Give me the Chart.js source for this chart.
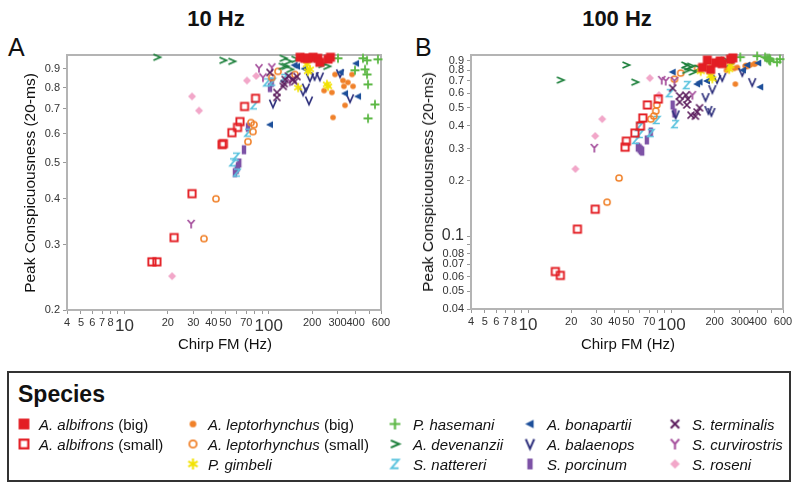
<!DOCTYPE html>
<html>
<head>
<meta charset="utf-8">
<script src="https://cdn.jsdelivr.net/npm/chart.js@4.4.1/dist/chart.umd.min.js"></script>
<style>
  body { margin: 0; background: #fff; font-family: "Liberation Sans", Arial, sans-serif; color: #111; }
  #wrap { position: relative; width: 800px; height: 487px; overflow: hidden; }
  .abs { position: absolute; white-space: nowrap; }
  .title { font-weight: bold; font-size: 22px; transform: translateX(-50%); }
  .panel { font-size: 25px; }
  .axt { font-size: 15px; transform: translate(-50%, -50%); }
  .axy { font-size: 15.5px; transform: translate(-50%, -50%) rotate(-90deg); }
  canvas.chart { position: absolute; top: 0; }
  #legend { position: absolute; left: 7px; top: 371px; width: 784px; height: 111px; border: 2px solid #333; box-sizing: border-box; }
  .item { position: absolute; font-size: 15px; transform: translateY(-50%); }
  .mk { position: absolute; transform: translate(-50%, -50%); }
</style>
</head>
<body>
<div id="wrap">
  <div class="abs title" style="left:216px; top:6px;">10 Hz</div>
  <div class="abs title" style="left:617px; top:6px;">100 Hz</div>
  <div class="abs panel" style="left:8px; top:33px;">A</div>
  <div class="abs panel" style="left:415px; top:33px;">B</div>
  <canvas id="chartA" class="chart" width="400" height="365" style="left:0;"></canvas>
  <canvas id="chartB" class="chart" width="400" height="365" style="left:400px;"></canvas>
  <div class="abs axy" style="left:30px; top:183px;">Peak Conspicuousness (20-ms)</div>
  <div class="abs axy" style="left:428px; top:182px;">Peak Conspicuousness (20-ms)</div>
  <div class="abs axt" style="left:225px; top:343px;">Chirp FM (Hz)</div>
  <div class="abs axt" style="left:628px; top:343px;">Chirp FM (Hz)</div>
  <div id="legend"></div>
</div>
<script>
const FONT = '"Liberation Sans", Arial, sans-serif';

// axis ticks
const xTicks = [4, 5, 6, 7, 8, 9, 10, 20, 30, 40, 50, 60, 70, 80, 90, 100, 200, 300, 400, 500, 600];
const xLabels = [4, 5, 6, 7, 8, 10, 20, 30, 40, 50, 70, 100, 200, 300, 400, 600];
const yTicksA = [0.2, 0.3, 0.4, 0.5, 0.6, 0.7, 0.8, 0.9];
const yLabelsA = [0.2, 0.3, 0.4, 0.5, 0.6, 0.7, 0.8, 0.9];
const yTicksB = [0.04, 0.05, 0.06, 0.07, 0.08, 0.09, 0.1, 0.2, 0.3, 0.4, 0.5, 0.6, 0.7, 0.8, 0.9];
const yLabelsB = [0.04, 0.05, 0.06, 0.07, 0.08, 0.1, 0.2, 0.3, 0.4, 0.5, 0.6, 0.7, 0.8, 0.9];

// chirp FM (Hz) and peak conspicuousness at 10 Hz / 100 Hz, per species
const albBigFM = [165, 178, 188, 203, 219, 226, 258, 268];
const albBig10 = [0.966, 0.96, 0.96, 0.966, 0.96, 0.936, 0.955, 0.966];
const albBig100 = [0.83, 0.91, 0.81, 0.88, 0.90, 0.87, 0.92, 0.935];

const albSmallFM = [15.5, 16.8, 22.1, 29.4, 47.5, 48.5, 55.6, 60.8, 63.2, 68, 81];
const albSmall10 = [0.270, 0.270, 0.314, 0.413, 0.561, 0.564, 0.604, 0.624, 0.647, 0.711, 0.748];
const albSmall100 = [0.064, 0.061, 0.109, 0.140, 0.305, 0.329, 0.364, 0.398, 0.440, 0.518, 0.558];

const lepBigFM = [242, 274, 279, 288, 327, 332, 338, 354, 378, 384];
const lepBig10 = [0.785, 0.776, 0.664, 0.868, 0.836, 0.806, 0.716, 0.826, 0.868, 0.806];
const lepBig100 = [0.80, 0.82, 0.673, 0.83, 0.845, 0.85, 0.84, 0.855, 0.865, 0.87];

const lepSmallFM = [35.6, 43.1, 71.8, 75.3, 77.8, 79, 105, 116, 152];
const lepSmall10 = [0.312, 0.40, 0.571, 0.643, 0.608, 0.635, 0.852, 0.885, 0.868];
const lepSmall100 = [0.153, 0.207, 0.434, 0.451, 0.480, 0.518, 0.716, 0.773, 0.82];

const gimFM = [160, 184, 187, 193, 253, 258];
const gim10 = [0.80, 0.924, 0.885, 0.896, 0.816, 0.806];
const gim100 = [0.79, 0.82, 0.75, 0.72, 0.81, 0.85];

const hasFM = [302, 396, 450, 465, 480, 480, 488, 488, 545, 571];
const has10 = [0.96, 0.891, 0.96, 0.896, 0.948, 0.868, 0.816, 0.66, 0.72, 0.954];
const has100 = [0.944, 0.957, 0.944, 0.93, 0.91, 0.93, 0.921, 0.90, 0.887, 0.921];

const devFM = [16.8, 48.2, 55.6, 124, 126, 130, 136, 140, 152, 216, 234, 253];
const dev10 = [0.966, 0.948, 0.942, 0.913, 0.96, 0.913, 0.942, 0.896, 0.954, 0.96, 0.924, 0.913];
const dev100 = [0.708, 0.855, 0.69, 0.855, 0.80, 0.834, 0.844, 0.783, 0.823, 0.89, 0.91, 0.87];

const natFM = [56.5, 59.3, 60.2, 71.8, 79, 97.2, 106, 128];
const nat10 = [0.502, 0.52, 0.471, 0.604, 0.716, 0.826, 0.83, 0.85];
const nat100 = [0.334, 0.393, 0.36, 0.364, 0.429, 0.601, 0.407, 0.665];

const bonFM = [102, 151, 157, 177, 315, 338, 403, 416];
const bon10 = [0.635, 0.92, 0.913, 0.90, 0.88, 0.771, 0.93, 0.757];
const bon100 = [0.783, 0.673, 0.69, 0.70, 0.802, 0.855, 0.877, 0.649];

const balFM = [107, 173, 181, 190, 193, 208, 226, 312, 366];
const bal10 = [0.724, 0.781, 0.80, 0.738, 0.852, 0.86, 0.857, 0.874, 0.748];
const bal100 = [0.46, 0.572, 0.486, 0.474, 0.632, 0.716, 0.735, 0.783, 0.69];

const porFM = [58.3, 60, 61.2, 62.5, 67.4, 71.8, 102, 105];
const por10 = [0.471, 0.48, 0.489, 0.50, 0.543, 0.624, 0.80, 0.826];
const por100 = [0.305, 0.30, 0.294, 0.29, 0.334, 0.369, 0.518, 0.468];

const terFM = [102, 114, 114, 126, 128, 130, 137, 147, 151, 157];
const ter10 = [0.879, 0.776, 0.752, 0.806, 0.82, 0.841, 0.86, 0.841, 0.83, 0.857];
const ter100 = [0.64, 0.537, 0.58, 0.586, 0.518, 0.558, 0.456, 0.45, 0.474, 0.50];

const curFM = [29, 85.6, 91.2, 105, 140];
const cur10 = [0.342, 0.902, 0.852, 0.907, 0.831];
const cur100 = [0.302, 0.708, 0.70, 0.70, 0.586];

const rosFM = [21.4, 29.4, 32.9, 70.7, 81.8];
const ros10 = [0.247, 0.757, 0.693, 0.836, 0.86];
const ros100 = [0.232, 0.351, 0.434, 0.726, 0.586];

// species table (first entry is drawn on top)
const species = [
  { genus: 'A. albifrons', extra: ' (big)', kind: 'sqFill', color: '#e31e24', fm: albBigFM, c10: albBig10, c100: albBig100, col: 0, row: 0 },
  { genus: 'P. gimbeli', extra: '', kind: 'star', color: '#f2e200', fm: gimFM, c10: gim10, c100: gim100, col: 1, row: 2 },
  { genus: 'A. devenanzii', extra: '', kind: 'gt', color: '#1b7f3a', fm: devFM, c10: dev10, c100: dev100, col: 2, row: 1 },
  { genus: 'P. hasemani', extra: '', kind: 'plus', color: '#5cb845', fm: hasFM, c10: has10, c100: has100, col: 2, row: 0 },
  { genus: 'A. bonapartii', extra: '', kind: 'triL', color: '#1d4f9a', fm: bonFM, c10: bon10, c100: bon100, col: 3, row: 0 },
  { genus: 'A. balaenops', extra: '', kind: 'vee', color: '#2b2d7a', fm: balFM, c10: bal10, c100: bal100, col: 3, row: 1 },
  { genus: 'A. leptorhynchus', extra: ' (big)', kind: 'dotFill', color: '#f0812a', fm: lepBigFM, c10: lepBig10, c100: lepBig100, col: 1, row: 0 },
  { genus: 'S. terminalis', extra: '', kind: 'ex', color: '#5c1e5e', fm: terFM, c10: ter10, c100: ter100, col: 4, row: 0 },
  { genus: 'S. curvirostris', extra: '', kind: 'wye', color: '#a34b9a', fm: curFM, c10: cur10, c100: cur100, col: 4, row: 1 },
  { genus: 'A. albifrons', extra: ' (small)', kind: 'sqOpen', color: '#e31e24', fm: albSmallFM, c10: albSmall10, c100: albSmall100, col: 0, row: 1 },
  { genus: 'A. leptorhynchus', extra: ' (small)', kind: 'dotOpen', color: '#f0812a', fm: lepSmallFM, c10: lepSmall10, c100: lepSmall100, col: 1, row: 1 },
  { genus: 'S. nattereri', extra: '', kind: 'zed', color: '#5bc3de', fm: natFM, c10: nat10, c100: nat100, col: 2, row: 2 },
  { genus: 'S. porcinum', extra: '', kind: 'bar', color: '#7d52a6', fm: porFM, c10: por10, c100: por100, col: 3, row: 2 },
  { genus: 'S. roseni', extra: '', kind: 'diam', color: '#f2a7c9', fm: rosFM, c10: ros10, c100: ros100, col: 4, row: 2 }
];

function makeMarker(kind, color, k) {
  const n = Math.round(14 * k);
  const c = document.createElement('canvas');
  c.width = n; c.height = n;
  const g = c.getContext('2d');
  g.translate(n / 2, n / 2);
  g.scale(k, k);
  g.strokeStyle = color;
  g.fillStyle = color;
  g.lineWidth = 1.7;
  g.beginPath();
  if (kind === 'sqFill') { g.fillRect(-4.5, -4.5, 9, 9); }
  else if (kind === 'sqOpen') { g.lineWidth = 1.9; g.strokeRect(-3.6, -3.6, 7.2, 7.2); }
  else if (kind === 'dotFill') { g.arc(0, 0, 2.8, 0, Math.PI * 2); g.fill(); }
  else if (kind === 'dotOpen') { g.lineWidth = 1.5; g.arc(0, 0, 3.1, 0, Math.PI * 2); g.stroke(); }
  else if (kind === 'star') {
    for (let i = 0; i < 3; i++) {
      const a = Math.PI / 2 + i * Math.PI / 3;
      g.moveTo(Math.cos(a) * 4.5, Math.sin(a) * 4.5);
      g.lineTo(-Math.cos(a) * 4.5, -Math.sin(a) * 4.5);
    }
    g.stroke();
  }
  else if (kind === 'plus') { g.lineWidth = 1.8; g.moveTo(-4.5, 0); g.lineTo(4.5, 0); g.moveTo(0, -4.5); g.lineTo(0, 4.5); g.stroke(); }
  else if (kind === 'gt') { g.moveTo(-3.5, -3); g.lineTo(3.5, 0); g.lineTo(-3.5, 3); g.stroke(); }
  else if (kind === 'zed') { g.moveTo(-3, -3.5); g.lineTo(3, -3.5); g.lineTo(-3, 3.5); g.lineTo(3, 3.5); g.stroke(); }
  else if (kind === 'triL') { g.moveTo(-4, 0); g.lineTo(3, -3.5); g.lineTo(3, 3.5); g.closePath(); g.fill(); }
  else if (kind === 'vee') { g.moveTo(-3.5, -4); g.lineTo(0, 4); g.lineTo(3.5, -4); g.stroke(); }
  else if (kind === 'bar') { g.fillRect(-2.2, -4.5, 4.4, 9); }
  else if (kind === 'ex') { g.moveTo(-3.5, -3.5); g.lineTo(3.5, 3.5); g.moveTo(3.5, -3.5); g.lineTo(-3.5, 3.5); g.stroke(); }
  else if (kind === 'wye') { g.moveTo(-3.5, -4); g.lineTo(0, 0); g.lineTo(3.5, -4); g.moveTo(0, 0); g.lineTo(0, 4.5); g.stroke(); }
  else if (kind === 'diam') { g.moveTo(0, -4); g.lineTo(4, 0); g.lineTo(0, 4); g.lineTo(-4, 0); g.closePath(); g.fill(); }
  return c;
}

const boxPlugin = {
  id: 'box',
  beforeDatasetsDraw(chart) {
    const a = chart.chartArea;
    const g = chart.ctx;
    g.save();
    g.strokeStyle = '#b4b4b4';
    g.lineWidth = 2;
    g.strokeRect(a.left, a.top, a.right - a.left, a.bottom - a.top);
    g.restore();
  }
};

function buildChart(id, key, yMin, yMax, yTicks, yLabels, yBig, yW, xH, rightPad) {
  const datasets = species.map(s => ({
    label: s.genus + s.extra,
    data: s.fm.map((f, i) => ({ x: f, y: s[key][i] })),
    pointStyle: makeMarker(s.kind, s.color, 1),
    pointRadius: 5,
    clip: false
  }));
  return new Chart(document.getElementById(id), {
    type: 'scatter',
    data: { datasets },
    options: {
      responsive: false,
      animation: false,
      events: [],
      layout: { padding: { top: 55, right: rightPad, left: 0, bottom: 0 } },
      plugins: { legend: { display: false }, tooltip: { enabled: false } },
      scales: {
        x: {
          type: 'logarithmic', min: 4, max: 600,
          afterFit: s => { s.height = xH; },
          afterBuildTicks: s => { s.ticks = xTicks.map(v => ({ value: v })); },
          grid: { drawOnChartArea: false, tickLength: 4, color: '#999' },
          border: { color: '#b4b4b4', width: 2 },
          ticks: {
            autoSkip: false, maxRotation: 0, padding: 2, color: '#333',
            font: c => ({ family: FONT, size: (c.tick && (c.tick.value === 10 || c.tick.value === 100)) ? 17 : 11 }),
            callback: v => xLabels.includes(v) ? String(v) : ''
          }
        },
        y: {
          type: 'logarithmic', min: yMin, max: yMax,
          afterFit: s => { s.width = yW; },
          afterBuildTicks: s => { s.ticks = yTicks.map(v => ({ value: v })); },
          grid: { drawOnChartArea: false, tickLength: 4, color: '#999' },
          border: { color: '#b4b4b4', width: 2 },
          ticks: {
            autoSkip: false, padding: 3, color: '#333',
            font: c => ({ family: FONT, size: (c.tick && c.tick.value === yBig) ? 16 : 11 }),
            callback: v => yLabels.includes(v) ? String(v) : ''
          }
        }
      }
    },
    plugins: [boxPlugin]
  });
}

buildChart('chartA', 'c10', 0.2, 0.98, yTicksA, yLabelsA, null, 67, 55, 19);
buildChart('chartB', 'c100', 0.04, 0.97, yTicksB, yLabelsB, 0.1, 71, 56, 17);

// legend
const legend = document.getElementById('legend');
const head = document.createElement('div');
head.className = 'abs';
head.style.cssText = 'left:9px; top:8px; font-weight:bold; font-size:23px;';
head.textContent = 'Species';
legend.appendChild(head);
const colMark = [15, 184, 386, 521, 666];
const colText = [30, 199, 404, 538, 683];
const rowY = [51, 71, 91];
species.forEach(s => {
  const m = makeMarker(s.kind, s.color, 1.2);
  m.className = 'mk';
  m.style.left = colMark[s.col] + 'px';
  m.style.top = rowY[s.row] + 'px';
  legend.appendChild(m);
  const t = document.createElement('div');
  t.className = 'item';
  t.style.left = colText[s.col] + 'px';
  t.style.top = rowY[s.row] + 'px';
  t.innerHTML = '<i>' + s.genus + '</i>' + s.extra;
  legend.appendChild(t);
});
</script>
</body>
</html>
